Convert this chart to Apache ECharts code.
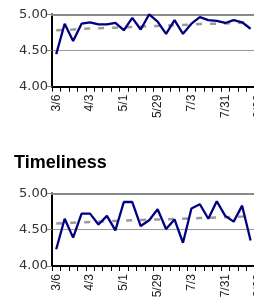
<!DOCTYPE html>
<html>
<head>
<meta charset="utf-8">
<script src="https://cdn.jsdelivr.net/npm/echarts@6/dist/echarts.min.js"></script>
<style>
html,body{margin:0;padding:0;background:#fff;overflow:hidden;width:254px;height:303px;}
#chart{width:320px;height:303px;}
</style>
</head>
<body>
<div id="chart"></div>
<script>
// Weekly categories (one week skipped in June)
var categories = ['3/6','3/13','3/20','3/27','4/3','4/10','4/17','4/24','5/1','5/8','5/15','5/22','5/29','6/12','6/19','6/26','7/3','7/10','7/17','7/24','7/31','8/7','8/14','8/21','8/28','9/4'];

// Upper chart (title cropped off)
var topValues = [4.45,4.87,4.63,4.87,4.89,4.86,4.86,4.88,4.78,4.95,4.79,5.00,4.90,4.73,4.92,4.73,4.87,4.96,4.92,4.91,4.88,4.92,4.89,4.80];
var topTrend  = [4.780,4.785,4.790,4.800,4.805,4.808,4.810,4.815,4.820,4.825,4.830,4.838,4.840,4.843,4.850,4.853,4.857,4.865,4.868,4.870,4.873,4.876,4.885,4.890];

// Timeliness chart
var timeValues = [4.23,4.65,4.39,4.72,4.72,4.57,4.69,4.49,4.88,4.88,4.55,4.63,4.78,4.51,4.64,4.32,4.79,4.85,4.65,4.89,4.69,4.61,4.83,4.35];
var timeTrend  = [4.585,4.590,4.595,4.600,4.605,4.610,4.615,4.620,4.625,4.630,4.632,4.636,4.640,4.643,4.646,4.650,4.655,4.660,4.664,4.668,4.672,4.676,4.680,4.685];

var yTicks = {min:4, max:5, interval:0.5};
var titleText = 'Timeliness';

var catW = 8.45;
var gridW = categories.length * catW;

function xBottom(gi){
  return {
    type:'category', gridIndex:gi, data:categories, boundaryGap:true, position:'bottom',
    axisLine:{onZero:false, lineStyle:{color:'#000', width:2}},
    axisTick:{show:true, interval:0, length:5, lineStyle:{color:'#000', width:1}},
    axisLabel:{interval:3, rotate:90, fontSize:12, fontFamily:'Liberation Sans, Arial, sans-serif', color:'#222', margin:8}
  };
}
function xTop(gi){
  return {
    type:'category', gridIndex:gi, data:categories, boundaryGap:true, position:'top',
    axisLine:{show:true, lineStyle:{color:'#8a8a8a', width:2}},
    axisTick:{show:false}, axisLabel:{show:false}, splitLine:{show:false}
  };
}
function yAx(gi){
  return {
    type:'value', gridIndex:gi, min:yTicks.min, max:yTicks.max, interval:yTicks.interval,
    axisLine:{show:true, lineStyle:{color:'#000', width:2}},
    axisTick:{show:true, length:5, lineStyle:{color:'#888', width:1}},
    axisLabel:{formatter:function(v){return v.toFixed(2);}, fontSize:13, fontFamily:'DejaVu Sans, sans-serif', color:'#333', margin:4},
    splitLine:{show:true, lineStyle:{color:'#999', width:1}}
  };
}

var chart = echarts.init(document.getElementById('chart'), null, {renderer:'canvas'});
chart.setOption({
  animation:false,
  backgroundColor:'#fff',
  title:{text:titleText, left:9, top:149, textStyle:{fontSize:18, fontWeight:'bold', fontFamily:'Liberation Sans, Arial, sans-serif', color:'#000'}},
  grid:[
    {left:52, top:14.3, width:gridW, height:72.4},
    {left:52, top:193.3, width:gridW, height:72.7}
  ],
  xAxis:[xBottom(0), xTop(0), xBottom(1), xTop(1)],
  yAxis:[yAx(0), yAx(1)],
  series:[
    {type:'line', xAxisIndex:0, yAxisIndex:0, data:topTrend, symbol:'none', lineStyle:{color:'#9a9a9a', width:2.5, type:[6,8]}, z:2},
    {type:'line', xAxisIndex:0, yAxisIndex:0, data:topValues, symbol:'none', lineStyle:{color:'#000080', width:2.3}, z:3},
    {type:'line', xAxisIndex:2, yAxisIndex:1, data:timeTrend, symbol:'none', lineStyle:{color:'#9a9a9a', width:2.5, type:[6,8]}, z:2},
    {type:'line', xAxisIndex:2, yAxisIndex:1, data:timeValues, symbol:'none', lineStyle:{color:'#000080', width:2.3}, z:3}
  ]
});
</script>
</body>
</html>
